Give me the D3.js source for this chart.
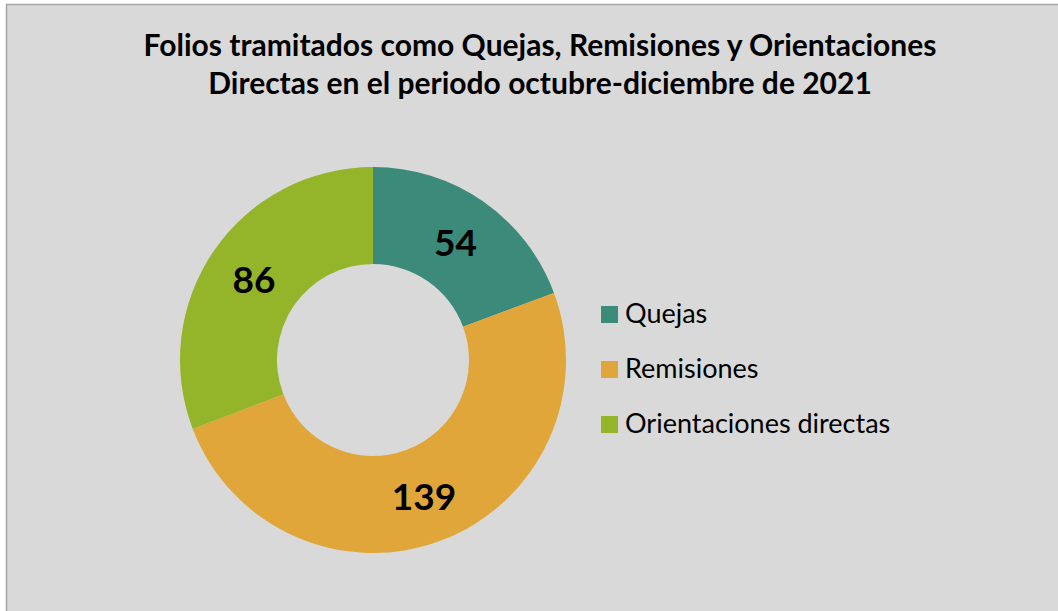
<!DOCTYPE html>
<html>
<head>
<meta charset="utf-8">
<script src="https://cdn.jsdelivr.net/npm/d3@7"></script>
<style>
  html, body { margin: 0; padding: 0; background: #ffffff; }
  svg { display: block; }
</style>
</head>
<body>
<div id="chart"></div>
<script>
var categories = ['Quejas', 'Remisiones', 'Orientaciones directas'];
var values = [54, 139, 86];
var colors = ['#3b8a7a', '#e0a63a', '#94b42a'];
var titleLines = ['Folios tramitados como Quejas, Remisiones y Orientaciones',
                  'Directas en el periodo octubre-diciembre de 2021'];

var width = 1058;
var height = 611;
var cx = 373, cy = 360;
var outerR = 193, innerR = 96;
var font = 'Lato, "Open Sans", sans-serif';

var svg = d3.select('#chart').append('svg')
  .attr('width', width)
  .attr('height', height);

// chart area
svg.append('rect')
  .attr('x', 6.5).attr('y', 4.5)
  .attr('width', width + 10).attr('height', height + 10)
  .attr('fill', '#d9d9d9')
  .attr('stroke', '#a5a5a5')
  .attr('stroke-width', 1.5);

// title
svg.append('text')
  .attr('text-anchor', 'middle')
  .attr('font-family', font)
  .attr('font-weight', 'bold')
  .attr('font-size', 30)
  .attr('fill', '#000')
  .selectAll('tspan')
  .data(titleLines)
  .enter().append('tspan')
  .attr('x', 540)
  .attr('y', function(d, i){ return 56 + i * 38; })
  .text(function(d){ return d; });

var data = categories.map(function(c, i){ return {name: c, value: values[i], color: colors[i]}; });

var pie = d3.pie().sort(null).value(function(d){ return d.value; });
var arc = d3.arc().innerRadius(innerR).outerRadius(outerR);

var g = svg.append('g').attr('transform', 'translate(' + cx + ',' + cy + ')');

var slices = g.selectAll('.slice').data(pie(data)).enter().append('g').attr('class', 'slice');

slices.append('path')
  .attr('d', arc)
  .attr('fill', function(d){ return d.data.color; });

slices.append('text')
  .attr('transform', function(d){ return 'translate(' + arc.centroid(d) + ')'; })
  .attr('text-anchor', 'middle')
  .attr('dy', '0.4em')
  .attr('font-family', font)
  .attr('font-weight', 'bold')
  .attr('font-size', 37)
  .attr('fill', '#000')
  .text(function(d){ return d.data.value; });

// legend
var legend = svg.append('g').attr('transform', 'translate(601,0)');
var items = legend.selectAll('.item').data(data).enter().append('g')
  .attr('class', 'item')
  .attr('transform', function(d, i){ return 'translate(0,' + (323 + i * 55) + ')'; });

items.append('rect')
  .attr('x', 0).attr('y', -17)
  .attr('width', 17).attr('height', 17)
  .attr('fill', function(d){ return d.color; });

items.append('text')
  .attr('x', 24).attr('y', 0)
  .attr('font-family', font)
  .attr('font-size', 27)
  .attr('fill', '#000')
  .text(function(d){ return d.name; });
</script>
</body>
</html>
